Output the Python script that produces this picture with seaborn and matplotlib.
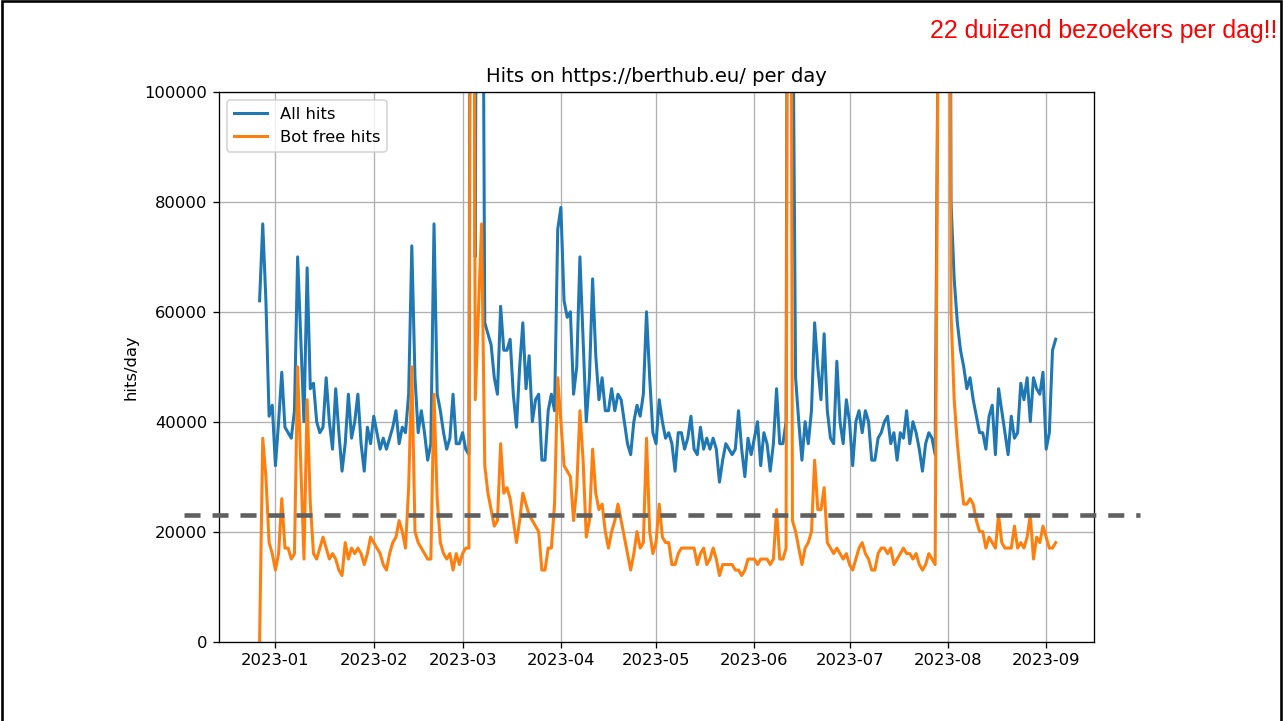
import numpy as np
import pandas as pd
import seaborn as sns
import matplotlib.pyplot as plt
import matplotlib.dates as mdates
from matplotlib.patches import Rectangle

### daily values, 2022-12-27 .. 2023-09-04
start_day = '2022-12-27'

all_hits = [
    62000, 76000, 62000, 41000, 43000,  # dec
    32000, 40000, 49000, 39000, 38000, 37000, 42000, 70000, 55000, 40000,
    68000, 46000, 47000, 40000, 38000, 39000, 48000, 40000, 35000, 46000,
    38000, 31000, 36000, 45000, 37000, 40000, 45000, 36000, 31000, 39000,
    36000,  # jan
    41000, 38000, 35000, 37000, 35000, 37000, 39000, 42000, 36000, 39000,
    38000, 45000, 72000, 48000, 38000, 42000, 38000, 33000, 36000, 76000,
    45000, 42000, 38000, 35000, 37000, 45000, 36000, 36000,  # feb
    38000, 35000, 34000, 300000, 70000, 250000, 180000, 58000, 56000, 54000,
    48000, 45000, 61000, 53000, 53000, 55000, 45000, 39000, 50000, 58000,
    46000, 52000, 40000, 44000, 45000, 33000, 33000, 42000, 45000, 42000,
    75000,  # mar
    79000, 62000, 59000, 60000, 45000, 50000, 70000, 55000, 40000, 48000,
    66000, 52000, 44000, 48000, 42000, 42000, 46000, 42000, 45000, 44000,
    40000, 36000, 34000, 40000, 43000, 41000, 45000, 60000, 48000, 38000,  # apr
    36000, 44000, 40000, 37000, 38000, 36000, 31000, 38000, 38000, 35000,
    37000, 41000, 35000, 34000, 39000, 35000, 37000, 35000, 37000, 35000,
    29000, 33000, 36000, 35000, 34000, 35000, 42000, 35000, 30000, 37000,
    34000,  # may
    37000, 40000, 32000, 38000, 36000, 31000, 36000, 46000, 36000, 36000,
    40000, 300000, 130000, 48000, 40000, 33000, 40000, 36000, 42000, 58000,
    50000, 44000, 56000, 42000, 37000, 36000, 51000, 40000, 36000, 44000,  # jun
    40000, 32000, 40000, 42000, 38000, 42000, 40000, 33000, 33000, 37000,
    38000, 40000, 41000, 36000, 38000, 33000, 38000, 37000, 42000, 36000,
    40000, 38000, 35000, 31000, 36000, 38000, 37000, 34000, 120000, 300000,
    300000,  # jul
    300000, 80000, 66000, 58000, 53000, 50000, 46000, 48000, 44000, 41000,
    38000, 38000, 35000, 41000, 43000, 34000, 46000, 42000, 38000, 34000,
    41000, 37000, 38000, 47000, 44000, 48000, 40000, 48000, 46000, 45000,
    49000,  # aug
    35000, 38000, 53000, 55000,  # sep
]

bot_free_hits = [
    0, 37000, 30000, 18000, 16000,  # dec
    13000, 16000, 26000, 17000, 17000, 15000, 16000, 50000, 32000, 15000,
    44000, 25000, 16000, 15000, 17000, 19000, 17000, 15000, 16000, 15000,
    13000, 12000, 18000, 15000, 17000, 16000, 17000, 16000, 14000, 16000,
    19000,  # jan
    18000, 17000, 16000, 14000, 13000, 16000, 18000, 19000, 22000, 20000,
    17000, 28000, 50000, 20000, 18000, 17000, 16000, 15000, 15000, 45000,
    26000, 18000, 16000, 15000, 16000, 13000, 16000, 14000,  # feb
    16000, 17000, 17000, 300000, 44000, 60000, 76000, 32000, 27000, 24000,
    21000, 22000, 36000, 27000, 28000, 26000, 22000, 18000, 22000, 27000,
    25000, 23000, 22000, 21000, 20000, 13000, 13000, 17000, 17000, 25000,
    48000,  # mar
    40000, 32000, 31000, 30000, 22000, 28000, 42000, 33000, 19000, 22000,
    35000, 27000, 24000, 25000, 20000, 17000, 20000, 22000, 25000, 22000,
    19000, 16000, 13000, 16000, 20000, 17000, 18000, 37000, 20000, 16000,  # apr
    18000, 25000, 19000, 18000, 18000, 14000, 14000, 16000, 17000, 17000,
    17000, 17000, 17000, 14000, 16000, 17000, 14000, 15000, 17000, 15000,
    12000, 14000, 14000, 14000, 14000, 13000, 13000, 12000, 13000, 15000,
    15000,  # may
    15000, 14000, 15000, 15000, 15000, 14000, 15000, 24000, 15000, 15000,
    17000, 300000, 22000, 20000, 17000, 14000, 17000, 18000, 20000, 33000,
    24000, 24000, 28000, 18000, 17000, 16000, 17000, 16000, 15000, 16000,  # jun
    14000, 13000, 15000, 17000, 18000, 16000, 15000, 13000, 13000, 16000,
    17000, 17000, 16000, 17000, 14000, 15000, 16000, 17000, 16000, 16000,
    15000, 16000, 14000, 13000, 14000, 16000, 15000, 14000, 120000, 300000,
    300000,  # jul
    250000, 60000, 44000, 36000, 30000, 25000, 25000, 26000, 25000, 22000,
    20000, 20000, 17000, 19000, 18000, 17000, 23000, 18000, 17000, 17000,
    17000, 21000, 17000, 18000, 17000, 19000, 23000, 15000, 19000, 18000,
    21000,  # aug
    19000, 17000, 17000, 18000,  # sep
]

level = 23000   # "22 duizend" marker line
assert len(all_hits) == len(bot_free_hits)

days = pd.date_range(start_day, periods=len(all_hits), freq='D')
df = pd.DataFrame({'day': days, 'all': all_hits, 'botfree': bot_free_hits})

W, H, DPI = 1283, 721, 118
fig = plt.figure(figsize=(W / DPI, H / DPI), dpi=DPI)
ax = fig.add_axes([219 / W, 1 - 641.5 / H, 875 / W, 549.5 / H])

sns.lineplot(data=df, x='day', y='all', ax=ax, color='#1f77b4', lw=1.85, label='All hits')
sns.lineplot(data=df, x='day', y='botfree', ax=ax, color='#ff7f0e', lw=1.85, label='Bot free hits')

ax.set_ylim(0, 100000)
ax.set_xlim(pd.Timestamp('2022-12-14 05:00'), pd.Timestamp('2023-09-16 02:00'))
ax.xaxis.set_major_locator(mdates.MonthLocator())
ax.xaxis.set_major_formatter(mdates.DateFormatter('%Y-%m'))
ax.grid(True)
ax.set_title('Hits on https://berthub.eu/ per day')
ax.set_xlabel('')
ax.set_ylabel('hits/day')
ax.legend(loc='upper left')

# dashed marker across the slide
ax.axhline(level, xmin=(184 - 219) / 875, xmax=(1140 - 219) / 875, clip_on=False,
           color='#606060', lw=2.8, dashes=(3.5, 2.6), zorder=5)

fig.text(1277 / W, 1 - 31 / H, '22 duizend bezoekers per dag!!', color='red',
         fontsize=15.2, family=['Liberation Sans', 'DejaVu Sans'], ha='right', va='center')

# slide frame
fig.patches.append(Rectangle((1.5 / W, -0.05), (1281 - 1.5) / W, 1.05 - 1.5 / H,
                             transform=fig.transFigure, fill=False, ec='black', lw=1.6))

fig.savefig('out.png', dpi=DPI)
